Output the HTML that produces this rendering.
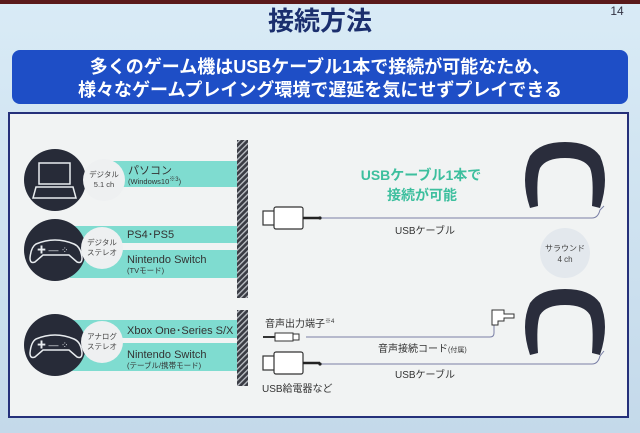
<!DOCTYPE html>
<html><head><meta charset="utf-8"><style>
html,body{margin:0;padding:0;width:640px;height:433px;overflow:hidden;background:#cfe2f1}
svg{display:block}
text{font-family:"Liberation Sans","Noto Sans CJK JP",sans-serif}
</style></head><body>
<svg width="640" height="433" viewBox="0 0 640 433" xmlns="http://www.w3.org/2000/svg">
<defs>
<linearGradient id="bg" x1="0" y1="0" x2="0" y2="1"><stop offset="0" stop-color="#d9ebf6"/><stop offset="1" stop-color="#c4d9ea"/></linearGradient>
<pattern id="hatch" width="4" height="4" patternUnits="userSpaceOnUse" patternTransform="rotate(45)"><rect width="4" height="4" fill="#3a3c44"/><rect width="1.3" height="4" fill="#bfc3c8"/></pattern>
</defs>
<rect width="640" height="433" fill="url(#bg)"/>
<rect width="640" height="4" fill="#5a1a1a"/>
<text x="320" y="30" font-size="26" font-weight="bold" fill="#1b2f6e" text-anchor="middle">接続方法</text>
<text x="617" y="15" font-size="12" fill="#334" text-anchor="middle">14</text>
<rect x="12" y="50" width="616" height="54" rx="8" fill="#1e4ec6"/>
<text x="320" y="73" font-size="18" font-weight="bold" fill="#fff" text-anchor="middle">多くのゲーム機はUSBケーブル1本で接続が可能なため、</text>
<text x="320" y="96" font-size="18" font-weight="bold" fill="#fff" text-anchor="middle">様々なゲームプレイング環境で遅延を気にせずプレイできる</text>
<rect x="9" y="113" width="619" height="304" fill="#f1f3f3" stroke="#25307a" stroke-width="2"/>
<!-- teal bars -->
<g fill="#7fdcd0">
<rect x="110" y="161" width="130" height="26"/>
<rect x="70" y="226" width="170" height="17"/>
<rect x="70" y="250" width="170" height="28"/>
<rect x="70" y="320" width="170" height="18"/>
<rect x="70" y="343" width="170" height="28"/>
</g>
<rect x="237" y="140" width="11" height="158" fill="url(#hatch)"/>
<rect x="237" y="310" width="11" height="76" fill="url(#hatch)"/>
<!-- dark circles -->
<g fill="#272b38">
<circle cx="55" cy="180" r="31"/><circle cx="55" cy="250" r="31"/><circle cx="55" cy="345" r="31"/>
</g>
<!-- laptop -->
<g stroke="#e8ecef" fill="none" stroke-width="1.5">
<rect x="39" y="163" width="31" height="21"/>
<path d="M36 187 H73 L76 198 H33 Z"/>
<path d="M36 244 q19-8 38 0 q7 3 8 14 q0 6-5 4 l-8-7 h-26 l-8 7 q-5 2-5-4 q1-11 6-14z"/>
<path d="M36 339 q19-8 38 0 q7 3 8 14 q0 6-5 4 l-8-7 h-26 l-8 7 q-5 2-5-4 q1-11 6-14z"/>
</g>
<g fill="#e8ecef" font-size="9"><text x="37" y="253">✚ ‒‒ ⁘</text><text x="37" y="348">✚ ‒‒ ⁘</text></g>
<!-- light circles -->
<g fill="#eef0f1"><circle cx="104" cy="180" r="21"/><circle cx="102" cy="248" r="21"/><circle cx="102" cy="342" r="21"/></g>
<g font-size="7.5" fill="#444" text-anchor="middle">
<text x="104" y="177">デジタル</text><text x="104" y="187">5.1 ch</text>
<text x="102" y="245">デジタル</text><text x="102" y="255">ステレオ</text>
<text x="102" y="339">アナログ</text><text x="102" y="349">ステレオ</text>
</g>
<g fill="#333">
<text x="128" y="174" font-size="11">パソコン</text><text x="128" y="184" font-size="7.5">(Windows10<tspan font-size="6" dy="-3">※3</tspan><tspan dy="3">)</tspan></text>
<text x="127" y="238" font-size="11">PS4･PS5</text>
<text x="127" y="263" font-size="11">Nintendo Switch</text><text x="127" y="273" font-size="7.5">(TVモード)</text>
<text x="127" y="334" font-size="11">Xbox One･Series S/X</text>
<text x="127" y="358" font-size="11">Nintendo Switch</text><text x="127" y="368" font-size="7.5">(テーブル/携帯モード)</text>
</g>
<!-- USB plug 1 -->
<g stroke="#333" fill="#fff" stroke-width="1.2">
<rect x="263" y="211" width="12" height="14"/><rect x="274" y="207" width="29" height="22" rx="2"/>
<rect x="263" y="356" width="12" height="14"/><rect x="274" y="352" width="29" height="22" rx="2"/>
</g>
<g stroke="#222" stroke-width="2.5"><line x1="303" y1="218" x2="320" y2="218"/><line x1="303" y1="363" x2="320" y2="363"/></g>
<g stroke="#7a7fa6" fill="none" stroke-width="1">
<path d="M320 218 H592 q6 0 8-8 l4-4"/>
<path d="M320 364 H592 q6 0 8-8 l4-5"/>
<path d="M306 337 H490 q4 0 4-4 v-8"/>
</g>
<circle cx="320" cy="218" r="1.6" fill="#222"/><circle cx="320" cy="364" r="1.6" fill="#222"/>
<!-- audio jack -->
<g stroke="#333" fill="#fff" stroke-width="1">
<rect x="275" y="333" width="18" height="8"/><rect x="293" y="334" width="6" height="6"/>
<path d="M492 325 v-15 h12 v4 h10 v4 h-10 v3 h-6 v4z"/>
</g>
<line x1="263" y1="337" x2="275" y2="337" stroke="#333" stroke-width="2"/>
<text x="265" y="327" font-size="10" fill="#333">音声出力端子<tspan font-size="6" dy="-4">※4</tspan></text>
<text x="262" y="392" font-size="10" fill="#333">USB給電器など</text>
<text x="378" y="352" font-size="10" fill="#333">音声接続コード<tspan font-size="7">(付属)</tspan></text>
<text x="395" y="234" font-size="10" fill="#333">USBケーブル</text>
<text x="395" y="378" font-size="10" fill="#333">USBケーブル</text>
<text x="421" y="180" font-size="14" font-weight="bold" fill="#3dbf9e" text-anchor="middle">USBケーブル1本で</text>
<text x="422" y="200" font-size="14" font-weight="bold" fill="#3dbf9e" text-anchor="middle">接続が可能</text>
<circle cx="565" cy="253" r="25" fill="#e3e8ed"/>
<text x="565" y="251" font-size="8" fill="#444" text-anchor="middle">サラウンド</text>
<text x="565" y="262" font-size="8" fill="#444" text-anchor="middle">4 ch</text>
<!-- headsets -->
<g fill="#2a2d3c">
<path d="M530 208 q-10-30 0-52 q10-14 35-14 q25 0 35 14 q10 22 0 52 l-8-2 q2-28-2-38 q-6-10-25-10 q-19 0-25 10 q-4 10-2 38z"/>
<path d="M530 355 q-10-30 0-52 q10-14 35-14 q25 0 35 14 q10 22 0 52 l-8-2 q2-28-2-38 q-6-10-25-10 q-19 0-25 10 q-4 10-2 38z"/>
</g>
</svg>
</body></html>
